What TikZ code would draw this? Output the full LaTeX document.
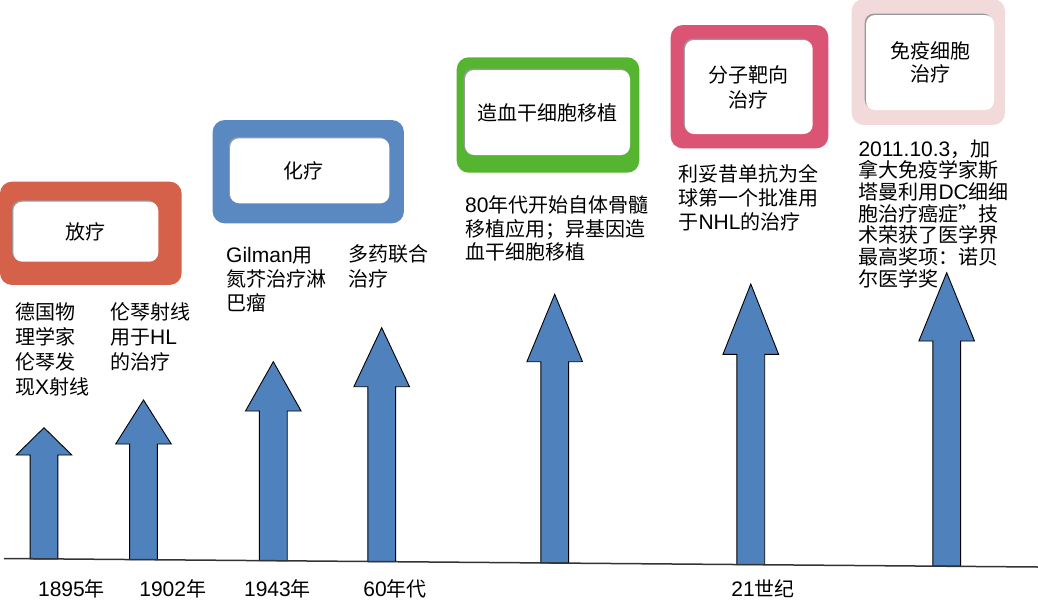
\documentclass[tikz,border=0pt]{standalone}
\usepackage{fontspec}
\setmainfont{Noto Sans CJK SC}
\newfontfamily\lat{Liberation Sans}[Scale=1.05]
\definecolor{cRed}{HTML}{D5614A}
\definecolor{cBlue}{HTML}{5A88C1}
\definecolor{cGreen}{HTML}{56B530}
\definecolor{cPink}{HTML}{DC5474}
\definecolor{cLight}{HTML}{F2DADA}
\definecolor{cArrow}{HTML}{4F81BD}
\newcommand\tlarrow[4]{%
  \draw[uparrow] ({#1-13.9},#2) -- ({#1-13.9},#3) -- ({#1-27.8},#3) -- (#1,#4)
    -- ({#1+27.8},#3) -- ({#1+13.9},#3) -- ({#1+13.9},#2) -- cycle;}
\begin{document}
\begin{tikzpicture}[x=1pt,y=-1pt,
  frame/.style={rounded corners=12pt, inner sep=0pt, draw=none},
  inner/.style={rounded corners=9pt, fill=white, inner sep=0pt, align=center,
    font=\fontsize{20}{24}\selectfont,
    preaction={fill=black!40, transform canvas={shift={(-1.3pt,1.3pt)}}}},
  desc/.style={anchor=base west, align=left, inner sep=0pt},
  year/.style={anchor=base, inner sep=0pt, font=\fontsize{20}{24}\selectfont},
  uparrow/.style={fill=cArrow, draw=black, line width=0.9pt, line join=miter},
  axis/.style={draw=black!80, line width=1.5pt}]
\useasboundingbox (0,0) rectangle (1038,608);
% frames
\node[frame, fill=cRed, minimum width=181.7pt, minimum height=103.3pt] (f1) at (90.8,233.3) {};
\node[inner, minimum width=145pt, minimum height=60pt] (b1) at (85.8,231.7) {放疗};
\node[frame, fill=cBlue, minimum width=191.3pt, minimum height=103.3pt] (f2) at (308.3,171.7) {};
\node[inner, minimum width=159.3pt, minimum height=65pt] (b2) at (309.7,170.8) {\hspace*{-12pt}化疗};
\node[frame, fill=cGreen, minimum width=182.6pt, minimum height=115.4pt] (f3) at (548,115) {};
\node[inner, minimum width=165pt, minimum height=85pt] (b3) at (547.5,112.5) {造血干细胞移植};
\node[frame, fill=cPink, minimum width=157.6pt, minimum height=123.3pt] (f4) at (749.5,86.7) {};
\node[inner, minimum width=127.7pt, minimum height=94pt, font=\fontsize{20}{25}\selectfont] (b4) at (748.8,87) {分子靶向\\治疗};
\node[frame, fill=cLight, minimum width=153.3pt, minimum height=126pt] (f5) at (928.3,62) {};
\node[inner, minimum width=128pt, minimum height=95pt, font=\fontsize{20}{23.3}\selectfont] (b5) at (930,62.5) {免疫细胞\\治疗};
% descriptions (base anchor = last line)
\node[desc, font=\fontsize{20}{24.9}\selectfont] (t1) at (15,394) {德国物\\理学家\\伦琴发\\现{\lat X}射线};
\node[desc, font=\fontsize{20}{25}\selectfont] (t2) at (110,369.3) {伦琴射线\\用于{\lat HL}\\的治疗};
\node[desc, font=\fontsize{20}{24}\selectfont] (t3) at (226,310.6) {{\lat Gilman}用\\氮芥治疗淋\\巴瘤};
\node[desc, font=\fontsize{20}{25}\selectfont] (t4) at (348.3,286) {多药联合\\治疗};
\node[desc, font=\fontsize{20}{23.6}\selectfont] (t5) at (465,259.8) {{\lat 80}年代开始自体骨髓\\移植应用；异基因造\\血干细胞移植};
\node[desc, font=\fontsize{20}{23.8}\selectfont] (t6) at (678.3,229.2) {利妥昔单抗为全\\球第一个批准用\\于{\lat NHL}的治疗};
\node[desc, font=\fontsize{20}{21.7}\selectfont] (t7) at (858.3,286.2) {{\lat 2011.10.3}，加\\拿大免疫学家斯\\塔曼利用{\lat DC}细细\\胞治疗癌症”技\\术荣获了医学界\\最高奖项：诺贝\\尔医学奖};
% arrows
\tlarrow{44}{559}{455}{427.7}
\tlarrow{143.5}{559.6}{444}{400}
\tlarrow{273.3}{560.7}{411}{361.7}
\tlarrow{381.7}{561.6}{386.7}{327.7}
\tlarrow{554.7}{563}{361.7}{294.3}
\tlarrow{750.8}{564.6}{354.3}{284}
\tlarrow{946.7}{566}{341}{272.7}
% axis
\coordinate (a0) at (4,558.5);
\coordinate (a1) at (1038,567);
\draw[axis] (a0) -- (a1);
% years
\node[year] (y1) at (71.5,596.6) {{\lat 1895}年};
\node[year] (y2) at (172.7,596.6) {{\lat 1902}年};
\node[year] (y3) at (277.5,596.6) {{\lat 1943}年};
\node[year] (y4) at (395,596.6) {{\lat 60}年代};
\node[year] (y5) at (763,596.6) {{\lat 21}世纪};
\end{tikzpicture}
\end{document}
